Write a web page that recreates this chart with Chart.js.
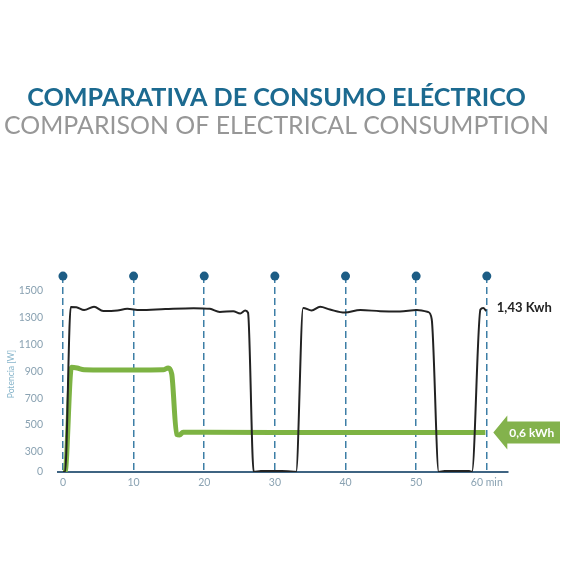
<!DOCTYPE html>
<html>
<head>
<meta charset="utf-8">
<script src="https://cdn.jsdelivr.net/npm/chart.js@4.4.1/dist/chart.umd.min.js"></script>
<style>
  html, body { margin: 0; padding: 0; background: #fff; }
  #wrap { width: 565px; height: 565px; }
</style>
</head>
<body>
<div id="wrap"><canvas id="chart"></canvas></div>
<script>
const titleEs = 'COMPARATIVA DE CONSUMO ELÉCTRICO';
const titleEn = 'COMPARISON OF ELECTRICAL CONSUMPTION';
const axisTitle = 'Potencia [W]';
const blackLabel = '1,43 Kwh';
const greenLabel = '0,6 kWh';

const minuteTicks = [0, 10, 20, 30, 40, 50, 60];
const wattTicks = [0, 300, 500, 700, 900, 1100, 1300, 1500];

// conventional appliance (black), minutes / watts
const blackMinutes = [0, 0.3, 1.1, 1.9, 3.0, 4.4, 5.7, 7.7, 9.1, 10.9, 14.5, 18.5, 20.8, 22.2, 24.1, 25.1, 25.8, 26.2,
  27.0, 28.0, 31.0, 32.7, 33.0, 34.0, 35.2, 36.4, 37.8, 39.9, 42.1, 44.9, 47.7, 50.1, 51.7, 52.2,
  53.2, 54.0, 57.5, 57.9, 59.1, 59.5, 59.9];
const blackWatts = [0, 0, 1380, 1378, 1357, 1381, 1350, 1354, 1366, 1358, 1365, 1371, 1366, 1343, 1349, 1332, 1354, 1337,
  0, 15, 15, 5, 0, 1373, 1354, 1381, 1361, 1338, 1357, 1349, 1347, 1357, 1342, 1290,
  0, 15, 15, 5, 1361, 1373, 1349];

// efficient appliance (green)
const greenMinutes = [0, 0.3, 1.2, 2.0, 3.0, 6.0, 10.0, 14.2, 14.9, 15.4, 16.1, 16.5, 17.0, 20.0, 30.0, 40.0, 50.0, 59.8];
const greenWatts = [0, 0, 930, 925, 912, 910, 910, 912, 926, 880, 430, 425, 447, 446, 445, 445, 445, 445];

// the y axis squeezes 0-300 into the room of 150
function squeeze(v) { return v < 300 ? 150 + v / 2 : v; }
function unsqueeze(u) { return u < 300 ? (u - 150) * 2 : u; }

class SqueezedScale extends Chart.LinearScale {
  getPixelForValue(v) { return super.getPixelForValue(squeeze(v)); }
  getValueForPixel(p) { return unsqueeze(super.getValueForPixel(p)); }
}
SqueezedScale.id = 'squeezed';
SqueezedScale.defaults = Chart.LinearScale.defaults;
Chart.register(SqueezedScale);

const FONT = 'Lato';

const extras = {
  id: 'extras',
  afterDatasetsDraw(chart) {
    const { ctx, chartArea, scales: { x, y } } = chart;
    ctx.save();

    // dots on top of the grid lines
    ctx.fillStyle = '#1d5d85';
    minuteTicks.forEach(m => {
      const px = x.getPixelForValue(m);
      ctx.beginPath();
      ctx.arc(px, chartArea.top, 4.5, 0, Math.PI * 2);
      ctx.fill();
    });

    const endX = x.getPixelForValue(60);

    // total for the black line
    ctx.fillStyle = '#222';
    ctx.font = 'bold 13px ' + FONT;
    ctx.textBaseline = 'middle';
    ctx.textAlign = 'left';
    ctx.fillText(blackLabel, endX + 10, y.getPixelForValue(blackWatts[blackWatts.length - 2]));

    // arrow with the total for the green line
    const ay = y.getPixelForValue(greenWatts[greenWatts.length - 1]);
    const tip = endX + 6.5;
    ctx.fillStyle = '#83b24c';
    ctx.beginPath();
    ctx.moveTo(tip, ay);
    ctx.lineTo(tip + 14, ay - 17);
    ctx.lineTo(tip + 14, ay - 11);
    ctx.lineTo(560, ay - 11);
    ctx.lineTo(560, ay + 11);
    ctx.lineTo(tip + 14, ay + 11);
    ctx.lineTo(tip + 14, ay + 17);
    ctx.closePath();
    ctx.fill();
    ctx.fillStyle = '#fff';
    ctx.font = 'bold 12px ' + FONT;
    ctx.fillText(greenLabel, tip + 16, ay + 1);

    ctx.restore();
  }
};

new Chart(document.getElementById('chart'), {
  type: 'line',
  data: {
    datasets: [
      {
        data: blackMinutes.map((m, i) => ({ x: m, y: blackWatts[i] })),
        borderColor: '#222',
        borderWidth: 2,
        pointRadius: 0,
        cubicInterpolationMode: 'monotone'
      },
      {
        data: greenMinutes.map((m, i) => ({ x: m, y: greenWatts[i] })),
        borderColor: '#7db343',
        borderWidth: 5,
        pointRadius: 0,
        cubicInterpolationMode: 'monotone'
      }
    ]
  },
  options: {
    responsive: true,
    maintainAspectRatio: false,
    animation: false,
    layout: { padding: { left: 0, right: 12, top: 0, bottom: 0 } },
    plugins: {
      legend: { display: false },
      tooltip: { enabled: false },
      title: {
        display: true,
        text: titleEs,
        color: '#1c6a90',
        font: { family: FONT, size: 25.2, weight: 'bold' },
        padding: { top: 83, bottom: 0 }
      },
      subtitle: {
        display: true,
        text: titleEn,
        color: '#979797',
        font: { family: FONT, size: 24.9, weight: 'normal' },
        padding: { top: -2, bottom: 135 }
      }
    },
    scales: {
      x: {
        type: 'linear',
        min: -0.7,
        max: 63,
        afterBuildTicks: s => { s.ticks = minuteTicks.map(v => ({ value: v })); },
        afterFit: s => { s.height = 93; },
        ticks: {
          color: '#8aa2b2',
          font: { family: FONT, size: 10.5 },
          padding: 4,
          callback: v => (v === 60 ? '60 min' : String(v))
        },
        grid: { color: '#3d7ea6', lineWidth: 1.5, drawTicks: false },
        border: { color: '#3f6482', width: 2, dash: [7, 4] }
      },
      y: {
        type: 'squeezed',
        min: 150,
        max: 1610,
        afterBuildTicks: s => { s.ticks = wattTicks.map(v => ({ value: v })); },
        afterFit: s => { s.width = 58; },
        ticks: {
          color: '#8aa2b2',
          font: { family: FONT, size: 10.5 },
          padding: 7,
          callback: v => String(v)
        },
        grid: { display: false },
        border: { display: false },
        title: {
          display: true,
          text: axisTitle,
          color: '#86b4ca',
          font: { family: FONT, size: 8.5 },
          padding: { top: 6, bottom: 0 }
        }
      },
      // empty right margin that keeps room for the labels
      side: {
        position: 'right',
        afterFit: s => { s.width = 45; },
        ticks: { display: false },
        grid: { display: false },
        border: { display: false }
      }
    }
  },
  plugins: [extras]
});
</script>
</body>
</html>
